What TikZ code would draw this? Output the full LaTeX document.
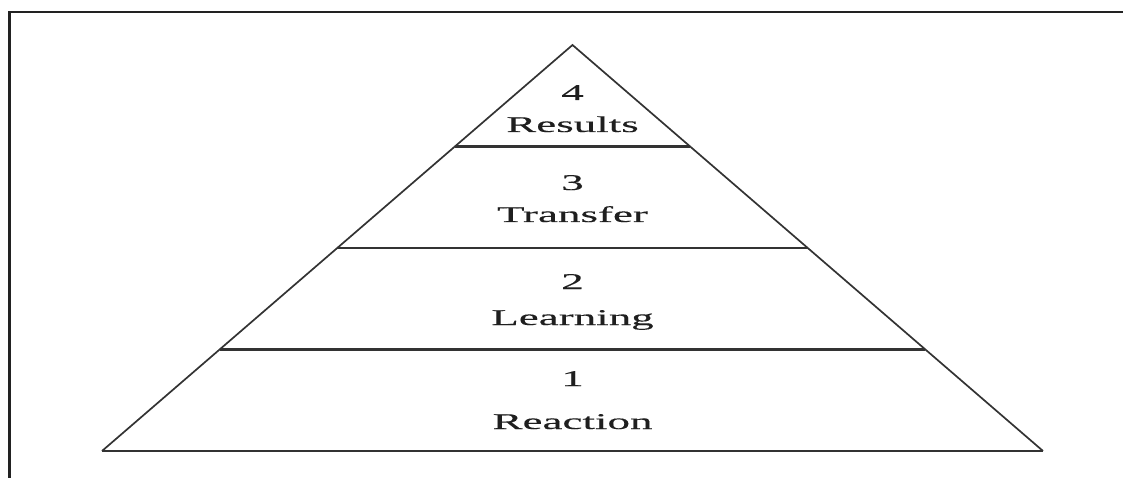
\documentclass[tikz,border=0pt]{standalone}
\usepackage{fontspec}
\setmainfont{Liberation Serif}
\newfontfamily\widefont[FakeStretch=2.0,FakeBold=0.3]{Liberation Serif}
\usetikzlibrary{calc}
\definecolor{edge}{HTML}{333333}
\definecolor{frame}{HTML}{222222}
\tikzset{
  side/.style={draw=edge, line width=1.7pt},
  level/.style={draw=edge, line width=2.1pt},
  border/.style={draw=frame, line width=2.2pt},
  lbl/.style={anchor=base, inner sep=0pt, font=\widefont\fontsize{22.5}{26}\selectfont, text=black!88}
}
\begin{document}
\begin{tikzpicture}[x=1pt,y=-1pt]
\useasboundingbox (0,0) rectangle (1123,478);
% page frame (top and left edges)
\coordinate (FT) at (1123,12);
\coordinate (FC) at (9.5,12);
\coordinate (FB) at (9.5,478);
\draw[border] (FT) -- (FC) -- (FB);
% pyramid outline
\coordinate (A) at (572.5,45);
\coordinate (BL) at (102,451);
\coordinate (BR) at (1043,451);
\draw[side] (BL) -- (A) -- (BR);
\draw[level] (BL) -- (BR);
% level dividers
\foreach \t/\n in {0.25/a, 0.5/b, 0.75/c}{
  \coordinate (L\n) at ($(A)!\t!(BL)$);
  \coordinate (R\n) at ($(A)!\t!(BR)$);
  \draw[level] (L\n) -- (R\n);
}
% level labels
\node[lbl] (n4) at (572.5,100) {4};
\node[lbl] (t4) at (572.5,132) {Results};
\node[lbl] (n3) at (572.5,190) {3};
\node[lbl] (t3) at (572.5,222) {Transfer};
\node[lbl] (n2) at (572.5,289) {2};
\node[lbl] (t2) at (572.5,325) {Learning};
\node[lbl] (n1) at (572.5,386) {1};
\node[lbl] (t1) at (572.5,429) {Reaction};
\end{tikzpicture}
\end{document}
